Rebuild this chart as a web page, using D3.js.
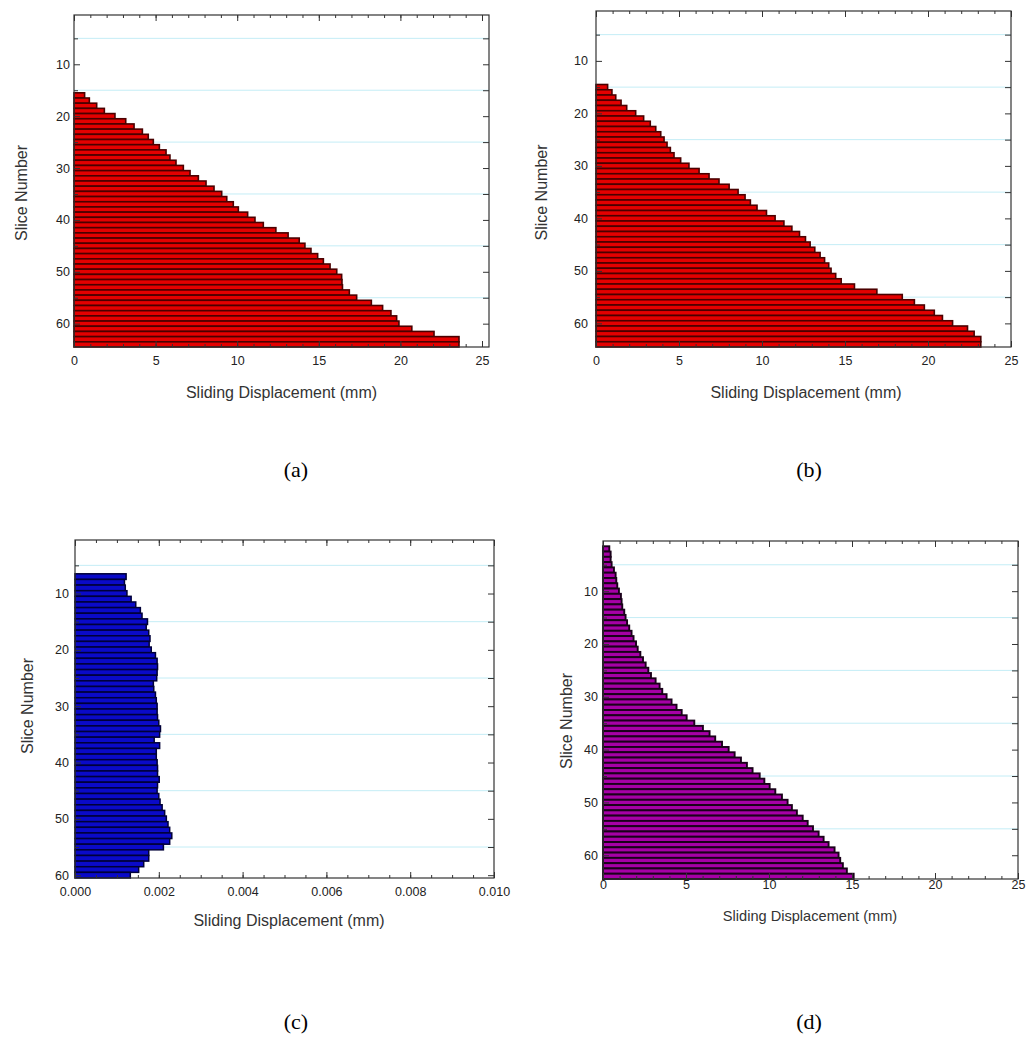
<!DOCTYPE html>
<html><head><meta charset="utf-8">
<script src="https://cdn.jsdelivr.net/npm/d3@7"></script>
<style>body{margin:0;background:#fff}svg{display:block}</style>
</head><body>
<svg id="chart" width="1036" height="1050"></svg>
<script>
// ---- data (sliding displacement per slice) ----
const firstSliceA = 16;
const dispA = [0.65,0.94,1.39,1.86,2.51,3.17,3.68,4.19,4.55,4.86,
  5.23,5.64,5.88,6.25,6.70,7.11,7.62,8.09,8.58,9.05,
  9.36,9.76,10.07,10.64,11.09,11.6,12.37,13.12,13.8,14.15,
  14.52,14.93,15.28,15.69,16.1,16.4,16.42,16.45,16.87,17.32,
  18.22,18.91,19.42,19.77,19.91,20.7,22.06,23.59,23.59];

const firstSliceB = 15;
const dispB = [0.70,0.96,1.19,1.51,1.85,2.39,2.87,3.27,3.6,3.9,
  4.1,4.28,4.48,4.7,5.1,5.6,6.21,6.81,7.41,8.02,
  8.56,8.98,9.3,9.7,10.27,10.79,11.32,11.8,12.26,12.62,
  12.9,13.18,13.5,13.77,14.02,14.16,14.44,14.77,15.57,16.92,
  18.45,19.18,19.78,20.38,20.87,21.48,22.38,22.78,23.18,23.18];

const firstSliceC = 7;
const dispC = [0.00122,0.00118,0.00120,0.00124,0.00134,0.00145,0.00156,0.00160,0.00173,0.00170,
  0.00176,0.00179,0.00177,0.00182,0.00192,0.00196,0.00197,0.00196,0.00195,0.00187,
  0.00188,0.00192,0.00194,0.00196,0.00196,0.00197,0.00200,0.00204,0.00202,0.00189,
  0.00202,0.00194,0.00194,0.00196,0.00197,0.00197,0.00201,0.00197,0.00196,0.00200,
  0.00203,0.00208,0.00214,0.00218,0.00222,0.00226,0.00231,0.00226,0.00211,0.00176,
  0.00176,0.00164,0.00152,0.00132];

const firstSliceD = 2;
const dispD = [0.38,0.46,0.46,0.52,0.66,0.76,0.80,0.86,0.96,1.08,
  1.12,1.16,1.28,1.36,1.45,1.58,1.72,1.84,1.99,2.09,
  2.25,2.41,2.57,2.73,2.89,3.17,3.41,3.57,3.83,4.13,
  4.43,4.74,5.04,5.5,6.02,6.42,6.76,7.17,7.57,7.93,
  8.31,8.67,9.01,9.44,9.72,10.04,10.38,10.78,11.12,11.38,
  11.68,12.03,12.33,12.65,12.99,13.29,13.59,13.95,14.19,14.29,
  14.45,14.69,15.1];

// ---- tick labels ----
const yTickLabels = [10,20,30,40,50,60];
const gridSlices = [5,15,25,35,45,55];
const xTicksMm = [0,5,10,15,20,25];
const xTicksC = [0,0.002,0.004,0.006,0.008,0.010];
const xTitle = "Sliding Displacement (mm)";
const yTitle = "Slice Number";
const panelLabels = ["(a)","(b)","(c)","(d)"];

const panels = [
  {data:dispA, first:firstSliceA, maxSlice:64, xMax:25, xEnd:482, left:74, right:489, top:15, bottom:347,
   fill:"#e40000", stroke:"#4a0000", sw:1.6, xticks:xTicksMm, minor:1, fmt:d3.format("d"),
   yPad:4, xPad:9, xtX:281.5, xtY:398, xtSize:16, ytX:21.7, ytY:193, lab:[296,477]},
  {data:dispB, first:firstSliceB, maxSlice:64, xMax:25, xEnd:1011, left:596, right:1011, top:11, bottom:347,
   fill:"#e40000", stroke:"#4a0000", sw:1.6, xticks:xTicksMm, minor:1, fmt:d3.format("d"),
   yPad:8, xPad:9, xtX:806, xtY:398, xtSize:16, ytX:541.7, ytY:192.5, lab:[809,477]},
  {data:dispC, first:firstSliceC, maxSlice:60, xMax:0.010, xEnd:494, left:75, right:494, top:540, bottom:878,
   fill:"#0a0ac8", stroke:"#000038", sw:1.5, xticks:xTicksC, minor:0.0005, fmt:d3.format(".3f"),
   yPad:6, xPad:9, xtX:289, xtY:926, xtSize:16, ytX:27.7, ytY:706, lab:[296,1029]},
  {data:dispD, first:firstSliceD, maxSlice:64, xMax:25, xEnd:1018, left:603, right:1018, top:541, bottom:879,
   fill:"#a600a6", stroke:"#1a001a", sw:1.9, xticks:xTicksMm, minor:1, fmt:d3.format("d"),
   yPad:5, xPad:1.5, xtX:810, xtY:921, xtSize:14.6, ytX:566.7, ytY:721, lab:[809,1029]}
];

const svg = d3.select("#chart");
const font = "Liberation Sans, Arial, sans-serif";

panels.forEach((p, pi) => {
  const x = d3.scaleLinear().domain([0, p.xMax]).range([p.left, p.xEnd]);
  const xFull = x.invert(p.right);
  const y = d3.scaleLinear().domain([0.5, p.maxSlice + 0.5]).range([p.top, p.bottom]);
  const g = svg.append("g");

  // gridlines
  g.selectAll("line.grid").data(gridSlices).enter().append("line")
    .attr("x1", p.left).attr("x2", p.right)
    .attr("y1", d => y(d)).attr("y2", d => y(d))
    .attr("stroke", "#c4edf6").attr("stroke-width", 1);

  // bars
  const rows = p.data.map((v, i) => ({slice: p.first + i, v}));
  g.selectAll("rect.bar").data(rows).enter().append("rect")
    .attr("x", x(0))
    .attr("y", d => y(d.slice - 0.5))
    .attr("width", d => x(d.v) - x(0))
    .attr("height", d => y(d.slice + 0.5) - y(d.slice - 0.5))
    .attr("fill", p.fill).attr("stroke", p.stroke).attr("stroke-width", p.sw);

  // minor ticks top/bottom
  const minorVals = d3.range(0, xFull + 1e-9, p.minor);
  const bottomMinor = d3.axisBottom(x).tickValues(minorVals).tickSizeInner(-3).tickSizeOuter(0).tickFormat("");
  const topMinor = d3.axisTop(x).tickValues(minorVals).tickSizeInner(-3).tickSizeOuter(0).tickFormat("");
  g.append("g").attr("transform", `translate(0,${p.bottom})`).call(bottomMinor).call(s => s.select(".domain").remove());
  g.append("g").attr("transform", `translate(0,${p.top})`).call(topMinor).call(s => s.select(".domain").remove());

  // major bottom axis
  const bottomAxis = d3.axisBottom(x).tickValues(p.xticks).tickSizeInner(-6).tickSizeOuter(0)
    .tickPadding(p.xPad).tickFormat(p.fmt);
  const gb = g.append("g").attr("transform", `translate(0,${p.bottom})`).call(bottomAxis);
  gb.select(".domain").remove();
  const topAxis = d3.axisTop(x).tickValues(p.xticks).tickSizeInner(-6).tickSizeOuter(0).tickFormat("");
  g.append("g").attr("transform", `translate(0,${p.top})`).call(topAxis).call(s => s.select(".domain").remove());

  // left axis
  const leftAxis = d3.axisLeft(y).tickValues(yTickLabels).tickSizeInner(-6).tickSizeOuter(0)
    .tickPadding(p.yPad).tickFormat(d3.format("d"));
  const gl = g.append("g").attr("transform", `translate(${p.left},0)`).call(leftAxis);
  gl.select(".domain").remove();
  const leftMinor = d3.axisLeft(y).tickValues(gridSlices).tickSizeInner(-4).tickSizeOuter(0).tickFormat("");
  g.append("g").attr("transform", `translate(${p.left},0)`).call(leftMinor).call(s => s.select(".domain").remove());

  // right axis (inward ticks every 5)
  const rightAxis = d3.axisRight(y).tickValues(gridSlices.concat(yTickLabels)).tickSizeInner(-6).tickSizeOuter(0).tickFormat("");
  g.append("g").attr("transform", `translate(${p.right},0)`).call(rightAxis).call(s => s.select(".domain").remove());

  g.selectAll(".tick line").attr("stroke", "#333");
  g.selectAll(".tick text").attr("font-family", font).attr("font-size", 12.5).attr("fill", "#222");

  // frame
  g.append("rect").attr("x", p.left).attr("y", p.top)
    .attr("width", p.right - p.left).attr("height", p.bottom - p.top)
    .attr("fill", "none").attr("stroke", "#333").attr("stroke-width", 1.2);

  // titles
  g.append("text").attr("x", p.xtX).attr("y", p.xtY).attr("text-anchor", "middle")
    .attr("font-family", font).attr("font-size", p.xtSize).attr("fill", "#333").text(xTitle);
  g.append("text").attr("transform", `translate(${p.ytX},${p.ytY}) rotate(-90)`)
    .attr("text-anchor", "middle").attr("dy", "0.35em")
    .attr("font-family", font).attr("font-size", 16).attr("fill", "#333").text(yTitle);

  // panel label
  svg.append("text").attr("x", p.lab[0]).attr("y", p.lab[1]).attr("text-anchor", "middle")
    .attr("font-family", "Liberation Serif, Times New Roman, serif").attr("font-size", 22)
    .attr("fill", "#000").text(panelLabels[pi]);
});
</script>
</body></html>
